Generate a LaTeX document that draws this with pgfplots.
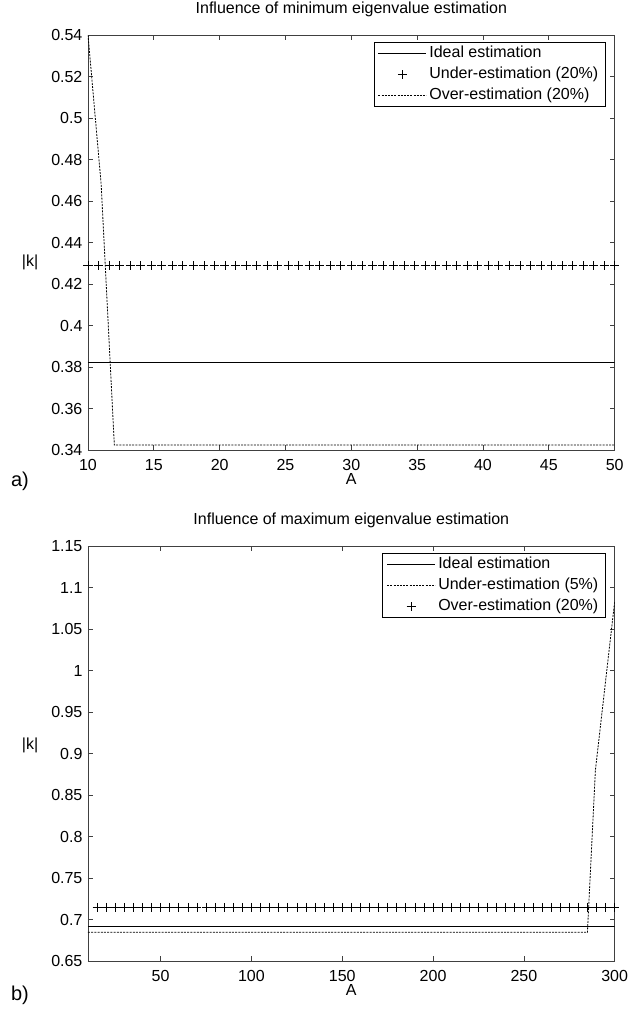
\documentclass[border=0pt]{standalone}
\usepackage{fontspec}
\setmainfont{Liberation Sans}
\usepackage{pgfplots}
\pgfplotsset{compat=1.18}

\pgfplotsset{
  matlab/.style={
    scale only axis, width=395pt, height=311.25pt, anchor=south west,
    axis line style={black!75, line width=0.6pt},
    tick style={black!75, line width=0.5pt},
    major tick length=3.75pt, tick align=inside,
    xtick pos=both, ytick pos=both,
    /pgf/number format/assume math mode=true,
    tick label style={font=\fontsize{12}{14}\selectfont},
    xticklabel style={yshift=-3pt},
    label style={font=\fontsize{12}{14}\selectfont},
    title style={font=\fontsize{12}{14}\selectfont, at={(axis description cs:0.5,1)}, anchor=base, yshift=10pt},
    xlabel style={at={(axis description cs:0.5,0)}, anchor=center, yshift=-22pt},
    legend image code/.code={\draw[mark repeat=2,mark phase=2,##1] plot coordinates {(0pt,0pt) (18pt,0pt) (36pt,0pt)};},
    legend style={at={(axis description cs:1,1)}, anchor=north east, xshift=-7pt, yshift=-5.5pt,
      draw=black, fill=white, line width=0.5pt, inner xsep=3pt, inner ysep=0.75pt, row sep=0.75pt,
      font=\fontsize{12}{14}\selectfont,
      nodes={text height=8.5pt, text depth=2.5pt, inner sep=2pt}},
    legend cell align=left,
  },
  ideal/.style={black, line width=0.6pt},
  dots/.style={black, line width=0.6pt, dash pattern=on 1.5pt off 0.9pt},
  plus/.style={black, only marks, mark=+, mark size=3.4pt, mark options={line width=0.5pt, solid}},
}

\begin{document}
\fontsize{12}{14}\selectfont
\begin{tikzpicture}
\useasboundingbox (0,0) rectangle (477pt,-761.25pt);

% a) minimum eigenvalue
\begin{axis}[matlab, at={(66pt,-337.5pt)},
  title={Influence of minimum eigenvalue estimation},
  xlabel={A}, ylabel={|k|},
  ylabel style={at={(axis description cs:0,0.453)}, anchor=center, rotate=-90, xshift=-43.5pt},
  xmin=10, xmax=50, ymin=0.34, ymax=0.54,
  xtick={10,15,20,25,30,35,40,45,50},
  ytick={0.34,0.36,0.38,0.4,0.42,0.44,0.46,0.48,0.5,0.52,0.54},
  yticklabels={0.34,0.36,0.38,0.4,0.42,0.44,0.46,0.48,0.5,0.52,0.54},
]
\addplot[ideal] coordinates {(10,0.382) (50,0.382)};
\addlegendentry{Ideal estimation}
\addplot[plus] coordinates {
(10,0.4288) (10.8,0.4288) (11.6,0.4288) (12.4,0.4288) (13.2,0.4288) (14,0.4288) (14.8,0.4288)
(15.6,0.4288) (16.4,0.4288) (17.2,0.4288) (18,0.4288) (18.8,0.4288) (19.6,0.4288) (20.4,0.4288)
(21.2,0.4288) (22,0.4288) (22.8,0.4288) (23.6,0.4288) (24.4,0.4288) (25.2,0.4288) (26,0.4288)
(26.8,0.4288) (27.6,0.4288) (28.4,0.4288) (29.2,0.4288) (30,0.4288) (30.8,0.4288) (31.6,0.4288)
(32.4,0.4288) (33.2,0.4288) (34,0.4288) (34.8,0.4288) (35.6,0.4288) (36.4,0.4288) (37.2,0.4288)
(38,0.4288) (38.8,0.4288) (39.6,0.4288) (40.4,0.4288) (41.2,0.4288) (42,0.4288) (42.8,0.4288)
(43.6,0.4288) (44.4,0.4288) (45.2,0.4288) (46,0.4288) (46.8,0.4288) (47.6,0.4288) (48.4,0.4288)
(49.2,0.4288) (50,0.4288)};
\addlegendentry{Under-estimation (20\%)}
\addplot[dots] coordinates {(10,0.54) (11,0.468) (12,0.3424) (50,0.3424)};
\addlegendentry{Over-estimation (20\%)}
\end{axis}

% b) maximum eigenvalue
\begin{axis}[matlab, at={(66pt,-720.75pt)},
  title={Influence of maximum eigenvalue estimation},
  xlabel={A}, ylabel={|k|},
  ylabel style={at={(axis description cs:0,0.52)}, anchor=center, rotate=-90, xshift=-43.5pt},
  xmin=10, xmax=300, ymin=0.65, ymax=1.15,
  xtick={50,100,150,200,250,300},
  ytick={0.65,0.7,0.75,0.8,0.85,0.9,0.95,1,1.05,1.1,1.15},
  yticklabels={0.65,0.7,0.75,0.8,0.85,0.9,0.95,1,1.05,1.1,1.15},
]
\addplot[ideal] coordinates {(10,0.692) (300,0.692)};
\addlegendentry{Ideal estimation}
\addplot[dots] coordinates {(10,0.6846) (285,0.6846) (289.4,0.88) (300,1.083)};
\addlegendentry{Under-estimation (5\%)}
\addplot[plus] coordinates {
(15,0.7147) (20,0.7147) (25,0.7147) (30,0.7147) (35,0.7147) (40,0.7147) (45,0.7147) (50,0.7147)
(55,0.7147) (60,0.7147) (65,0.7147) (70,0.7147) (75,0.7147) (80,0.7147) (85,0.7147) (90,0.7147)
(95,0.7147) (100,0.7147) (105,0.7147) (110,0.7147) (115,0.7147) (120,0.7147) (125,0.7147) (130,0.7147)
(135,0.7147) (140,0.7147) (145,0.7147) (150,0.7147) (155,0.7147) (160,0.7147) (165,0.7147) (170,0.7147)
(175,0.7147) (180,0.7147) (185,0.7147) (190,0.7147) (195,0.7147) (200,0.7147) (205,0.7147) (210,0.7147)
(215,0.7147) (220,0.7147) (225,0.7147) (230,0.7147) (235,0.7147) (240,0.7147) (245,0.7147) (250,0.7147)
(255,0.7147) (260,0.7147) (265,0.7147) (270,0.7147) (275,0.7147) (280,0.7147) (285,0.7147) (290,0.7147)
(295,0.7147) (300,0.7147)};
\addlegendentry{Over-estimation (20\%)}
\end{axis}

\node[font=\fontsize{15}{18}\selectfont] at (15pt,-361pt) {a)};
\node[font=\fontsize{15}{18}\selectfont] at (15pt,-746.5pt) {b)};
\end{tikzpicture}
\end{document}
